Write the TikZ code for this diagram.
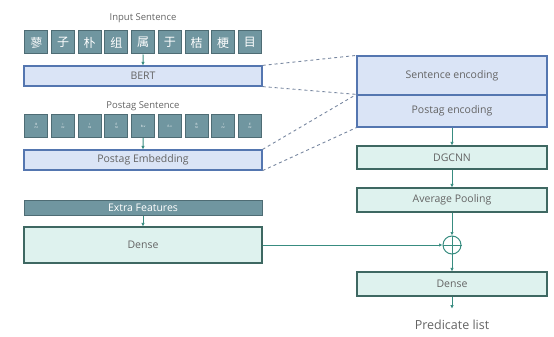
\documentclass[tikz,border=0pt]{standalone}
\usepackage{fontspec}
\setmainfont{Open Sans}
\newfontfamily\cjk{Noto Sans CJK SC}
\usetikzlibrary{arrows.meta}

\begin{document}
\begin{tikzpicture}[x=1pt,y=-1pt,>={Latex[length=3.5pt,width=3.5pt]},font=\fontsize{10.5}{12}\selectfont]
\definecolor{tokenfill}{RGB}{112,150,160}
\definecolor{tokenline}{RGB}{78,108,116}
\definecolor{encfill}{RGB}{218,228,246}
\definecolor{encline}{RGB}{84,118,176}
\definecolor{densefill}{RGB}{222,242,238}
\definecolor{denseline}{RGB}{62,104,98}
\definecolor{flow}{RGB}{56,140,128}
\definecolor{labeltext}{RGB}{100,100,100}
\definecolor{linkline}{RGB}{120,135,160}

\tikzset{
  token/.style={draw=tokenline,fill=tokenfill,line width=1pt,
    minimum width=23pt,minimum height=23pt,inner sep=0pt,text=white},
  encbox/.style={draw=encline,fill=encfill,line width=1.2pt,
    inner sep=0pt,text=labeltext},
  densebox/.style={draw=denseline,fill=densefill,line width=1.2pt,
    inner sep=0pt,text=labeltext},
  title/.style={text=labeltext,font=\fontsize{9.5}{11}\selectfont},
  flowarrow/.style={->,flow,line width=1pt},
  link/.style={linkline,dashed,line width=0.9pt}
}

\useasboundingbox (0,0) rectangle (554,337);

% Input sentence and BERT.
\node[title] (intitle) at (143,18) {Input Sentence};
\foreach \ch [count=\i from 0] in {蓼,子,朴,组,属,于,桔,梗,目}{
  \node[token,font=\cjk\fontsize{12}{12}\selectfont] (tok\i) at ({36.3+26.7*\i},42.5) {\ch};
}
\node[encbox,minimum width=238pt,minimum height=20pt] (bert) at (143,76) {BERT};

% Postag sentence and its embedding.
\node[title] (ptitle) at (143,106) {Postag Sentence};
\foreach \tg [count=\i from 0] in {{B\\nz},{I\\nz},{I\\nz},{E\\nz},{B-v},{E-v},{B\\nz},{I\\nz},{E\\nz}}{
  \node[token,align=center,font=\fontsize{3}{3.5}\selectfont] (ptok\i) at ({36.3+26.7*\i},126) {\tg};
}
\node[encbox,minimum width=238pt,minimum height=20pt] (pemb) at (143,160) {Postag Embedding};

% Extra features branch.
\node[token,minimum width=238pt,minimum height=15pt] (extra) at (143,208) {Extra Features};
\node[densebox,minimum width=238pt,minimum height=36pt] (dense) at (143,245) {Dense};

% Encoder stack on the right.
\node[encbox,minimum width=190pt,minimum height=39pt] (senc) at (452,75.5) {Sentence encoding};
\node[encbox,minimum width=190pt,minimum height=32pt] (penc) at (452,111) {Postag encoding};
\node[densebox,minimum width=190pt,minimum height=23pt] (dgcnn) at (452,157.5) {DGCNN};
\node[densebox,minimum width=190pt,minimum height=24pt] (pool) at (452,200) {Average Pooling};
\node[circle,draw=flow,line width=1pt,minimum size=18pt,inner sep=0pt] (plus) at (452,245) {};
\draw[flow,line width=1pt] (plus.north)--(plus.south) (plus.west)--(plus.east);
\node[densebox,minimum width=190pt,minimum height=24pt] (dense2) at (452,284) {Dense};
\node[text=labeltext,font=\fontsize{12.5}{14}\selectfont] (pred) at (452,325) {Predicate list};

% Dashed links to the encodings.
\draw[link] (bert.north east) -- (senc.north west);
\draw[link] (bert.south east) -- (penc.north west);
\draw[link] (pemb.north east) -- (penc.north west);
\draw[link] (pemb.south east) -- (penc.south west);

% Flow arrows.
\draw[flowarrow] (tok4.south) -- (bert.north);
\draw[flowarrow] (ptok4.south) -- (pemb.north);
\draw[flowarrow] (extra.south) -- (dense.north);
\draw[flowarrow] (penc.south) -- (dgcnn.north);
\draw[flowarrow] (dgcnn.south) -- (pool.north);
\draw[flowarrow] (pool.south) -- (plus.north);
\draw[flowarrow] (dense.east) -- (plus.west);
\draw[flowarrow] (plus.south) -- (dense2.north);
\draw[flowarrow] (dense2.south) -- ++(0,12) coordinate (predtop);
\end{tikzpicture}
\end{document}
